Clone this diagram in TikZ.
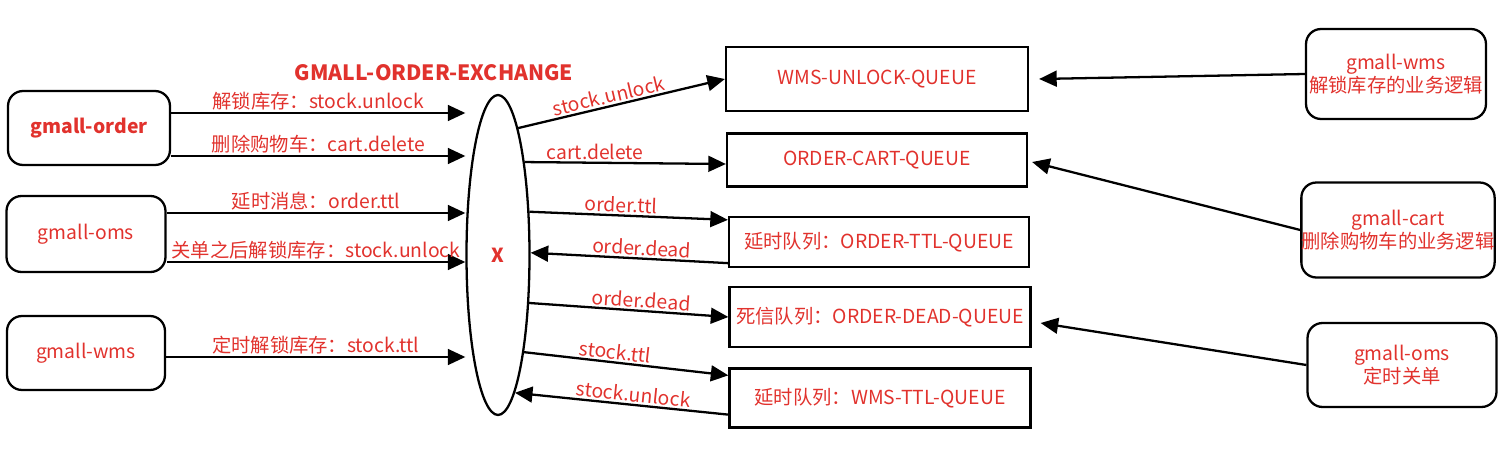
\documentclass[tikz,border=0pt]{standalone}
\usepackage{fontspec}
\setmainfont{Noto Sans CJK SC}
\usetikzlibrary{shapes.geometric,arrows.meta,calc}
\definecolor{msgred}{RGB}{225,50,45}

\begin{document}
\fontsize{11}{13}\selectfont
\begin{tikzpicture}[x=0.02cm,y=-0.02cm,
    app/.style={draw,line width=1.3pt,rounded corners=0.3cm,text=msgred,align=center,inner sep=0pt},
    queue/.style={draw,line width=1.3pt,text=msgred,inner sep=0pt},
    msg/.style={line width=1.3pt,-{Triangle[length=10pt,width=9pt]}},
    lbl/.style={text=msgred,inner sep=1pt}]
        \useasboundingbox (0,0) rectangle (1512,450);
        % producers
        \node[app,minimum width=3.24cm,minimum height=1.48cm,font=\bfseries] (order) at (89,128) {gmall-order};
        \node[app,minimum width=3.18cm,minimum height=1.52cm] (oms) at (86,234) {gmall-oms};
        \node[app,minimum width=3.16cm,minimum height=1.48cm] (wmsl) at (86,353) {gmall-wms};
        % exchange
        \node[draw,ellipse,line width=1.3pt,minimum width=1.26cm,minimum height=6.4cm,inner sep=0pt,text=msgred,font=\bfseries] (xch) at (498,255) {X};
        \node[text=msgred,font=\bfseries\fontsize{12}{14}\selectfont] (title) at (434,73) {GMALL-ORDER-EXCHANGE};
        % queues
        \node[queue,minimum width=6.04cm,minimum height=1.28cm] (wul) at (877,79) {WMS-UNLOCK-QUEUE};
        \node[queue,minimum width=6cm,minimum height=1.06cm] (ocq) at (877,160) {ORDER-CART-QUEUE};
        \node[queue,minimum width=6cm,minimum height=1cm] (ottl) at (879,242) {延时队列：ORDER-TTL-QUEUE};
        \node[queue,minimum width=6.02cm,minimum height=1.2cm] (odq) at (880,317) {死信队列：ORDER-DEAD-QUEUE};
        \node[queue,minimum width=6.02cm,minimum height=1.18cm] (wttl) at (880,398) {延时队列：WMS-TTL-QUEUE};
        % consumers
        \node[app,minimum width=3.6cm,minimum height=1.8cm] (wmsr) at (1396,74) {gmall-wms\\解锁库存的业务逻辑};
        \node[app,minimum width=3.78cm,minimum height=1.9cm] (cart) at (1398,230) {gmall-cart\\删除购物车的业务逻辑};
        \node[app,minimum width=3.78cm,minimum height=1.68cm] (omsr) at (1402,365) {gmall-oms\\定时关单};
        % into the exchange
        \draw[msg] (order.east |- 0,113) -- node[lbl,above] {解锁库存：stock.unlock} (xch.west |- 0,113);
        \draw[msg] (order.east |- 0,156) -- node[lbl,above] {删除购物车：cart.delete} (xch.west |- 0,156);
        \draw[msg] (oms.east |- 0,213) -- node[lbl,above] {延时消息：order.ttl} (xch.west |- 0,213);
        \draw[msg] (oms.east |- 0,262) -- node[lbl,above] {关单之后解锁库存：stock.unlock} (xch.west |- 0,262);
        \draw[msg] (wmsl.east |- 0,357) -- node[lbl,above] {定时解锁库存：stock.ttl} (xch.west |- 0,357);
        % routing
        \draw[msg] (xch.81) -- node[lbl,sloped,above,pos=0.45] {stock.unlock} (wul.west);
        \draw[msg] (xch.74) -- node[lbl,above,pos=0.35] {cart.delete} ($(ocq.west)+(0,4)$);
        \draw[msg] (xch.54) -- node[lbl,sloped,above,pos=0.46] {order.ttl} ($(ottl.north west)+(0,4)$);
        \draw[msg] ($(ottl.south west)+(0,-5)$) -- node[lbl,sloped,above,pos=0.44] {order.dead} (xch.4);
        \draw[msg] (xch.-57) -- node[lbl,sloped,above,pos=0.56] {order.dead} (odq.west);
        \draw[msg] (xch.-75) -- node[lbl,sloped,above,pos=0.44] {stock.ttl} ($(wttl.north west)+(0,8)$);
        \draw[msg] ($(wttl.south west)+(0,-14)$) -- node[lbl,sloped,above,pos=0.45] {stock.unlock} (xch.-83);
        % consumers listen
        \draw[msg] (wmsr.west) -- ($(wul.east)+(10,0)$);
        \draw[msg] (cart.west) -- ($(ocq.east)+(4,2)$);
        \draw[msg] (omsr.west) -- ($(odq.east)+(9,6)$);
\end{tikzpicture}
\end{document}
